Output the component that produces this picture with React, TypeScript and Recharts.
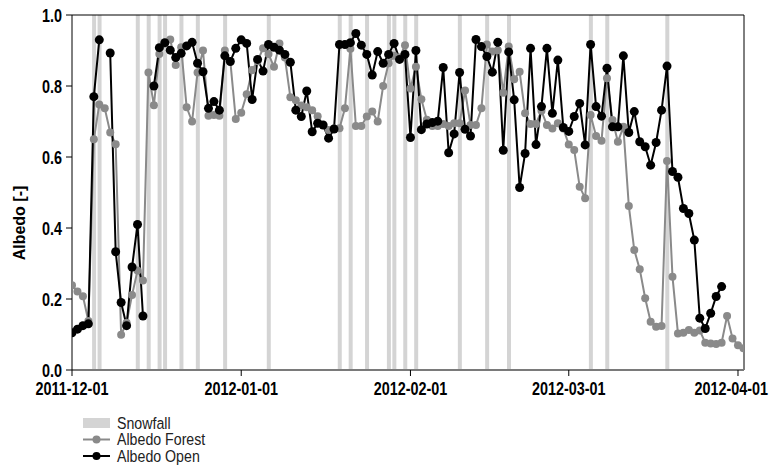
import React from 'react';
import { ComposedChart, Line, Bar, XAxis, YAxis, ReferenceLine } from 'recharts';

// Day index 0 = 2011-12-01
const albedoForest = [
  0.239, 0.221, 0.208, 0.138, 0.65, 0.748, 0.737, 0.669, 0.636, 0.099,
  0.133, 0.211, 0.28, 0.252, 0.838, 0.746, 0.89, 0.92, 0.931, 0.859,
  0.909, 0.74, 0.70, 0.838, 0.90, 0.716, 0.718, 0.716, 0.90, 0.87,
  0.707, 0.725, 0.777, 0.845, 0.87, 0.906, 0.89, 0.854, 0.92, 0.88,
  0.768, 0.76, 0.745, 0.74, 0.732, 0.715, 0.69, 0.676, 0.68, 0.681,
  0.737, 0.905, 0.687, 0.687, 0.714, 0.728, 0.70, 0.80, 0.864, 0.885,
  0.88, 0.915, 0.793, 0.854, 0.763, 0.705, 0.687, 0.687, 0.693, 0.687,
  0.695, 0.695, 0.787, 0.69, 0.69, 0.737, 0.917, 0.897, 0.901, 0.781,
  0.911, 0.819, 0.84, 0.723, 0.693, 0.693, 0.73, 0.69, 0.68, 0.695,
  0.68, 0.635, 0.62, 0.516, 0.484, 0.718, 0.659, 0.646, 0.822, 0.704,
  0.643, 0.685, 0.462, 0.338, 0.284, 0.202, 0.136, 0.122, 0.124, 0.589,
  0.263, 0.103, 0.105, 0.113, 0.105, 0.111, 0.077, 0.075, 0.073, 0.077,
  0.152, 0.089, 0.070, 0.061,
];

const albedoOpen = [
  0.105, 0.115, 0.125, 0.13, 0.77, 0.93, null, 0.893, 0.333, 0.19,
  0.125, 0.29, 0.41, 0.152, null, 0.80, 0.908, 0.922, 0.901, 0.88,
  0.892, 0.913, 0.923, 0.864, 0.84, 0.737, 0.756, 0.732, 0.885, 0.869,
  0.906, 0.93, 0.92, 0.762, 0.875, 0.842, 0.917, 0.909, 0.901, 0.889,
  0.867, 0.732, 0.714, 0.786, 0.671, 0.695, 0.69, 0.653, 0.679, 0.917,
  0.917, 0.922, 0.948, 0.915, 0.889, 0.831, 0.897, 0.864, 0.889, 0.92,
  0.875, 0.889, 0.655, 0.9, 0.677, 0.693, 0.697, 0.701, 0.852, 0.612,
  0.665, 0.838, 0.678, 0.659, 0.931, 0.911, 0.883, 0.839, 0.923, 0.619,
  0.896, 0.761, 0.514, 0.61, 0.906, 0.635, 0.742, 0.906, 0.723, 0.873,
  0.683, 0.672, 0.714, 0.751, 0.634, 0.917, 0.742, 0.715, 0.85, 0.685,
  0.685, 0.885, 0.669, 0.728, 0.643, 0.629, 0.577, 0.641, 0.732, 0.856,
  0.559, 0.543, 0.455, 0.441, 0.366, 0.146, 0.117, 0.16, 0.207, 0.235,
];

const snowfallDays = [4, 5, 12, 14, 16, 17, 20, 23, 28, 36, 49, 51, 54, 58, 59, 61, 63, 71, 76, 80, 95, 98, 109];

const tickDays = [0, 31, 62, 91, 122];
const tickLabels = ['2011-12-01', '2012-01-01', '2012-02-01', '2012-03-01', '2012-04-01'];
const yTicks = [0, 0.2, 0.4, 0.6, 0.8, 1.0];

const data = albedoForest.map((v, i) => ({
  day: i,
  forest: v,
  open: albedoOpen[i] ?? null,
  snow: snowfallDays.includes(i) ? 1 : null,
}));

const FONT = "'Liberation Sans', Arial, sans-serif";
const FOREST = '#8a8a8a';
const SNOW = '#d4d4d4';
const NARROW = 0.8;

const legendItems = [
  { name: 'Snowfall', kind: 'bar', color: SNOW },
  { name: 'Albedo Forest', kind: 'line', color: FOREST },
  { name: 'Albedo Open', kind: 'line', color: '#000' },
];

const XTick = (props: any) => {
  const { x, y, payload, index } = props;
  const label = tickLabels[tickDays.indexOf(payload.value)] ?? '';
  const isLast = index === tickDays.length - 1;
  const tx = isLast ? Math.min(x + 30, 768) : x;
  return (
    <g transform={`translate(${tx},${y + 4}) scale(${NARROW},1)`}>
      <text x={0} y={0} dy="0.71em" textAnchor={isLast ? 'end' : 'middle'} fill="#000"
        style={{ fontSize: 18, fontWeight: 'bold', fontFamily: FONT }}>
        {label}
      </text>
    </g>
  );
};

const YTick = (props: any) => {
  const { x, y, payload } = props;
  return (
    <g transform={`translate(${x - 2},${y}) scale(${NARROW},1)`}>
      <text x={0} y={0} textAnchor="end" dominantBaseline="central" fill="#000"
        style={{ fontSize: 18, fontWeight: 'bold', fontFamily: FONT }}>
        {Number(payload.value).toFixed(1)}
      </text>
    </g>
  );
};

export default function App() {
  return (
    <div style={{ position: 'absolute', left: 0, top: 0, width: 769, height: 466, background: '#fff' }}>
      <ComposedChart
        width={769}
        height={466}
        data={data}
        margin={{ top: 15, right: 25, left: 0, bottom: 66 }}
      >
        <XAxis
          dataKey="day"
          type="number"
          domain={[0, 123.1]}
          ticks={tickDays}
          allowDataOverflow
          height={30}
          tickSize={6}
          axisLine={{ stroke: '#7a7a7a', strokeWidth: 2 }}
          tickLine={{ stroke: '#000' }}
          tick={<XTick />}
        />
        <YAxis
          type="number"
          domain={[0, 1]}
          ticks={yTicks}
          allowDataOverflow
          width={72}
          tickSize={6}
          axisLine={{ stroke: '#000' }}
          tickLine={{ stroke: '#000' }}
          tick={<YTick />}
          label={{
            content: () => (
              <text
                x={19}
                y={223}
                transform="rotate(-90 19 223)"
                textAnchor="middle"
                dominantBaseline="central"
                style={{ fontSize: 16, fontWeight: 'bold', fontFamily: FONT, fill: '#000' }}
              >
                Albedo [-]
              </text>
            ),
          }}
        />
        <ReferenceLine y={1} stroke="#000" strokeWidth={1} ifOverflow="visible" />
        <ReferenceLine x={123.1} stroke="#000" strokeWidth={1} ifOverflow="visible" />
        <Bar dataKey="snow" name="Snowfall" fill={SNOW} barSize={4} isAnimationActive={false} />
        <Line
          dataKey="forest"
          name="Albedo Forest"
          stroke={FOREST}
          strokeWidth={2}
          dot={{ r: 4, fill: FOREST, stroke: FOREST, strokeWidth: 0 }}
          activeDot={false}
          isAnimationActive={false}
        />
        <Line
          dataKey="open"
          name="Albedo Open"
          stroke="#000"
          strokeWidth={2}
          dot={{ r: 4.5, fill: '#000', stroke: '#000', strokeWidth: 0 }}
          activeDot={false}
          isAnimationActive={false}
        />
      </ComposedChart>
      <svg width={200} height={56} style={{ position: 'absolute', left: 82, top: 414 }}>
        {legendItems.map((it, i) => {
          const cy = 9 + i * 16.5;
          return (
            <g key={it.name}>
              {it.kind === 'bar' ? (
                <rect x={1} y={cy - 5} width={27} height={10} fill={it.color} />
              ) : (
                <g>
                  <line x1={1} y1={cy} x2={28} y2={cy} stroke={it.color} strokeWidth={2} />
                  <circle cx={14.5} cy={cy} r={4} fill={it.color} />
                </g>
              )}
              <g transform={`translate(35,${cy}) scale(0.86,1)`}>
                <text x={0} y={0} dominantBaseline="central" fill="#222"
                  style={{ fontSize: 16.5, fontFamily: FONT }}>
                  {it.name}
                </text>
              </g>
            </g>
          );
        })}
      </svg>
    </div>
  );
}
